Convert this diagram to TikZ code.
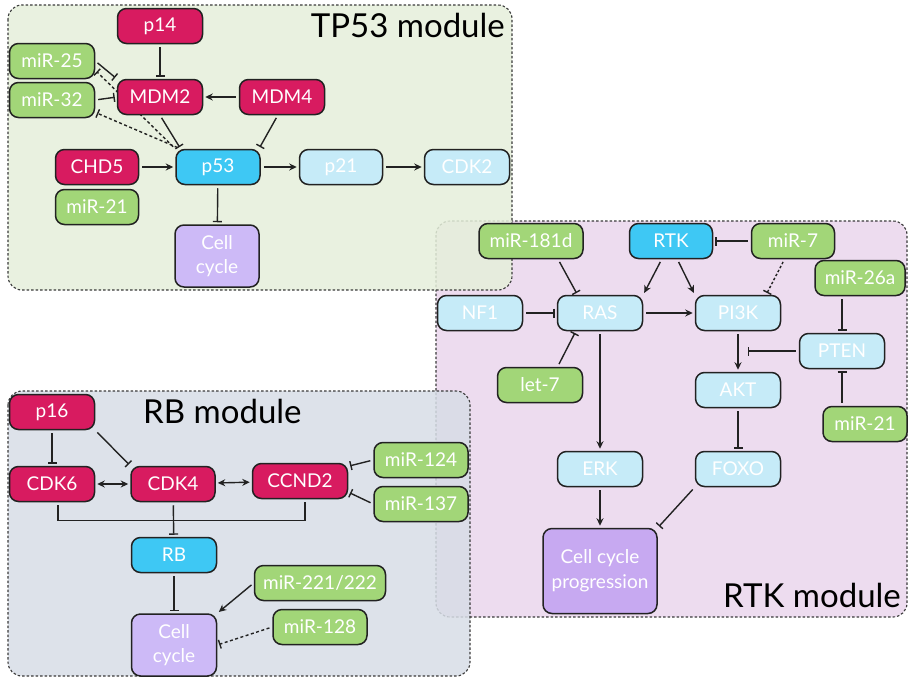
\documentclass[tikz,border=0pt]{standalone}
\usepackage{fontspec}
\setmainfont{Lato}
\usetikzlibrary{arrows.meta,calc}
\definecolor{pinkc}{HTML}{D81B60}
\definecolor{greenc}{HTML}{A2D678}
\definecolor{bluec}{HTML}{3EC8F4}
\definecolor{lbluec}{HTML}{C6EBF8}
\definecolor{lavc}{HTML}{CDBAF7}
\definecolor{lav2c}{HTML}{C7A9F1}
\definecolor{tpbg}{HTML}{E5EFDA}
\definecolor{rtkbg}{HTML}{EDDCEF}
\definecolor{rbbg}{HTML}{D7DDE6}
\definecolor{linec}{HTML}{222222}
\definecolor{modline}{HTML}{3A3A3A}
\pgfdeclarelayer{bg}
\pgfdeclarelayer{edges}
\pgfsetlayers{bg,edges,main}
\begin{document}
\begin{tikzpicture}[x=1pt,y=-1pt,
  box/.style={draw=linec, line width=1.5pt, rounded corners=9pt, minimum height=35pt,
    minimum width=85pt, inner sep=0pt, text=white, font=\fontsize{19}{24}\selectfont, align=center},
  pnode/.style={box, fill=pinkc},
  gnode/.style={box, fill=greenc},
  bnode/.style={box, fill=bluec},
  lnode/.style={box, fill=lbluec},
  vnode/.style={box, fill=lavc, minimum height=62pt, minimum width=84pt},
  modb/.style={draw=modline, line width=1.1pt, dash pattern=on 2.5pt off 2pt, rounded corners=14pt},
  title/.style={font=\fontsize{33}{36}\selectfont, text=black, inner sep=0pt},
  edge/.style={line width=1.4pt, draw=linec, shorten >=2pt, shorten <=3pt},
  act/.style={edge, -{Stealth[length=7.5pt,width=7pt]}},
  inh/.style={edge, -{Bar[width=9pt]}},
  bi/.style={edge, shorten >=2pt, shorten <=2pt, {Stealth[length=7.5pt,width=7pt]}-{Stealth[length=7.5pt,width=7pt]}},
  dsh/.style={dash pattern=on 3pt off 2.5pt}
]
\useasboundingbox (0,0) rectangle (909,680);

% ---------- module backgrounds ----------
\begin{pgfonlayer}{bg}
\draw[modb, fill=rtkbg] (436,221) rectangle (907,617);
\draw[modb, fill=tpbg, fill opacity=0.85] (8,5) rectangle (512,290);
\draw[modb, fill=rbbg, fill opacity=0.85] (8,391) rectangle (470,676);
\end{pgfonlayer}

% ---------- titles ----------
\node[title, anchor=base east] (t1) at (505,37) {TP53 module};
\node[title, anchor=base west] (t2) at (143,423) {RB module};
\node[title, anchor=base east] (t3) at (901,607) {RTK module};

% ---------- TP53 module nodes ----------
\node[pnode] (p14) at (160,26) {p14};
\node[gnode] (m25) at (52,61) {miR-25};
\node[gnode] (m32) at (52,100) {miR-32};
\node[pnode] (mdm2) at (160,97) {MDM2};
\node[pnode] (mdm4) at (282,97) {MDM4};
\node[pnode, minimum width=83pt] (chd5) at (97,167) {CHD5};
\node[gnode, minimum width=83pt] (m21a) at (97,207) {miR-21};
\node[bnode, minimum width=84pt] (p53) at (218,167) {p53};
\node[lnode, minimum width=83pt] (p21) at (341,167) {p21};
\node[lnode] (cdk2) at (467,167) {CDK2};
\node[vnode] (cc1) at (217,256) {Cell\\cycle};

% ---------- RTK module nodes ----------
\node[gnode, minimum width=104pt] (m181) at (531,241) {miR-181d};
\node[bnode, minimum width=83pt] (rtk) at (671,241) {RTK};
\node[gnode, minimum width=83pt] (m7) at (793,241) {miR-7};
\node[gnode, minimum width=90pt] (m26) at (860,278) {miR-26a};
\node[lnode] (nf1) at (480,313) {NF1};
\node[lnode] (ras) at (600,313) {RAS};
\node[lnode] (pi3k) at (738,313) {PI3K};
\node[lnode] (pten) at (842,351) {PTEN};
\node[gnode] (let7) at (540,385) {let-7};
\node[lnode] (akt) at (738,390) {AKT};
\node[gnode, minimum width=84pt] (m21b) at (865,424) {miR-21};
\node[lnode] (erk) at (600,469) {ERK};
\node[lnode] (foxo) at (738,469) {FOXO};
\node[vnode, fill=lav2c, minimum width=114pt, minimum height=85pt, font=\fontsize{19}{25}\selectfont] (ccp) at (600,571) {Cell cycle\\progression};

% ---------- RB module nodes ----------
\node[pnode] (p16) at (52,412) {p16};
\node[pnode] (cdk6) at (52,484) {CDK6};
\node[pnode, minimum width=84pt] (cdk4) at (173,484) {CDK4};
\node[pnode, minimum width=95pt] (ccnd2) at (300,481) {CCND2};
\node[gnode, minimum width=94pt] (m124) at (421,460) {miR-124};
\node[gnode, minimum width=94pt] (m137) at (421,504) {miR-137};
\node[bnode] (rb) at (174,555) {RB};
\node[gnode, minimum width=131pt] (m221) at (320,583) {miR-221/222};
\node[gnode, minimum width=94pt] (m128) at (320,627) {miR-128};
\node[vnode, minimum width=85pt] (cc2) at (174,645) {Cell\\cycle};

% ---------- edges ----------
\begin{pgfonlayer}{edges}
% TP53
\draw[inh] (p14) -- (mdm2);
\draw[inh] (m25.east) -- (mdm2.north west);
\draw[inh] (m32.east) -- (mdm2.west);
\draw[inh, dsh] (p53.north west) -- (m25.-12);
\draw[inh, dsh] ([xshift=5pt]p53.north west) -- (m32.-16);
\draw[inh] (mdm2.south) -- (p53.154);
\draw[inh] (mdm4.257) -- (p53.24);
\draw[act] (mdm4) -- (mdm2);
\draw[act] (chd5) -- (p53);
\draw[act] (p53) -- (p21);
\draw[act] (p21) -- (cdk2);
\draw[inh] (p53) -- (cc1);
% RTK
\draw[inh] (m181.-34) -- (ras.141);
\draw[act] (rtk.243) -- (ras.north east);
\draw[act] (rtk.-71) -- (pi3k.north west);
\draw[inh] (m7) -- (rtk);
\draw[inh, dash pattern=on 2.5pt off 2pt] (m7.245) -- (pi3k.33);
\draw[inh] (nf1) -- (ras);
\draw[inh] (let7.46) -- (ras.217);
\draw[act] (ras) -- (pi3k);
\draw[act] (ras) -- (erk);
\draw[act] (pi3k) -- (akt);
\coordinate (pa) at (pi3k.south |- pten.west);
\draw[inh] (pten.west) -- ([xshift=8pt]pa);
\draw[inh] (pten.north |- m26.south) -- (pten.north);
\draw[inh] (pten.south |- m21b.north) -- (pten.south);
\draw[inh] (akt) -- (foxo);
\draw[act] (erk) -- (ccp);
\draw[inh] (foxo.south west) -- (ccp.north east);
% RB
\draw[inh] (p16) -- (cdk6);
\draw[inh] (p16.south east) -- (cdk4.north west);
\draw[bi] (cdk6) -- (cdk4);
\draw[bi] (cdk4) -- (ccnd2);
\draw[inh] (m124.west) -- (ccnd2.17);
\draw[inh] (m137.west) -- (ccnd2.-13);
\draw[line width=1.4pt, draw=linec, shorten <=3pt, shorten >=3pt]
  ([xshift=6pt]cdk6.south) -- ++(0,18) -| ([xshift=5pt]ccnd2.south);
\draw[inh] (cdk4) -- (rb);
\draw[inh] (rb) -- (cc2);
\draw[act] (m221.west) -- (cc2.north east);
\draw[inh, dsh] (m128.west) -- (cc2.east);
\end{pgfonlayer}
\end{tikzpicture}
\end{document}
